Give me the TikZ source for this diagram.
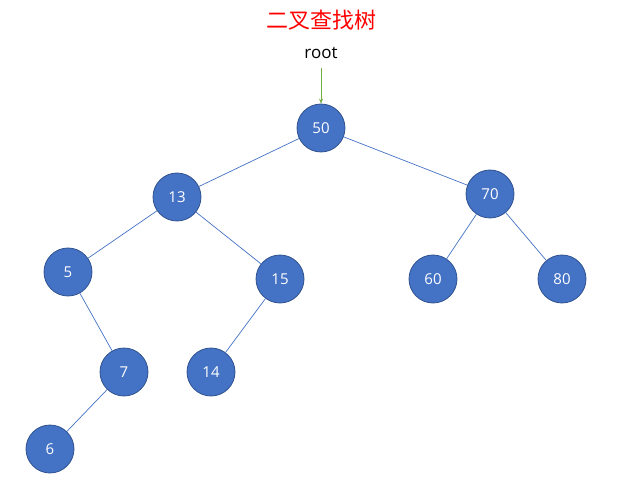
\documentclass[tikz,border=0pt]{standalone}
\usepackage{fontspec}
\usetikzlibrary{arrows.meta}
\setmainfont{Open Sans}
\newfontfamily\cjk{Noto Sans CJK SC}
\definecolor{nodefill}{HTML}{4472C4}
\definecolor{nodeborder}{HTML}{2F528F}
\definecolor{arrowgreen}{HTML}{70AD47}
\begin{document}
\begin{tikzpicture}[x=1pt,y=-1pt,
  treenode/.style={circle,fill=nodefill,draw=nodeborder,line width=0.8pt,minimum size=48pt,inner sep=0pt,text=white,font=\fontsize{15}{18}\selectfont},
  edge/.style={draw=nodefill,line width=0.7pt}]
\useasboundingbox (0,0) rectangle (626,494);
\node[text=red,font=\cjk\fontsize{22}{26}\selectfont] (title) at (321,20) {二叉查找树};
\node[font=\fontsize{17}{20}\selectfont] (root) at (321,53) {root};
\coordinate (rootfoot) at (321,68);
\node[treenode] (n50) at (321,128) {50};
\node[treenode] (n13) at (177,197) {13};
\node[treenode] (n70) at (490,194) {70};
\node[treenode] (n5) at (68,272) {5};
\node[treenode] (n15) at (280,279) {15};
\node[treenode] (n60) at (433,279) {60};
\node[treenode] (n80) at (562,279) {80};
\node[treenode] (n7) at (124,372) {7};
\node[treenode] (n14) at (211,372) {14};
\node[treenode] (n6) at (50,449) {6};
\draw[draw=arrowgreen,line width=0.7pt,-{Stealth[length=5pt,width=4pt]}] (rootfoot) -- (n50.north);
\draw[edge] (n50) -- (n13);
\draw[edge] (n50) -- (n70);
\draw[edge] (n13) -- (n5);
\draw[edge] (n13) -- (n15);
\draw[edge] (n70) -- (n60);
\draw[edge] (n70) -- (n80);
\draw[edge] (n5) -- (n7);
\draw[edge] (n7) -- (n6);
\draw[edge] (n15) -- (n14);
\end{tikzpicture}
\end{document}
